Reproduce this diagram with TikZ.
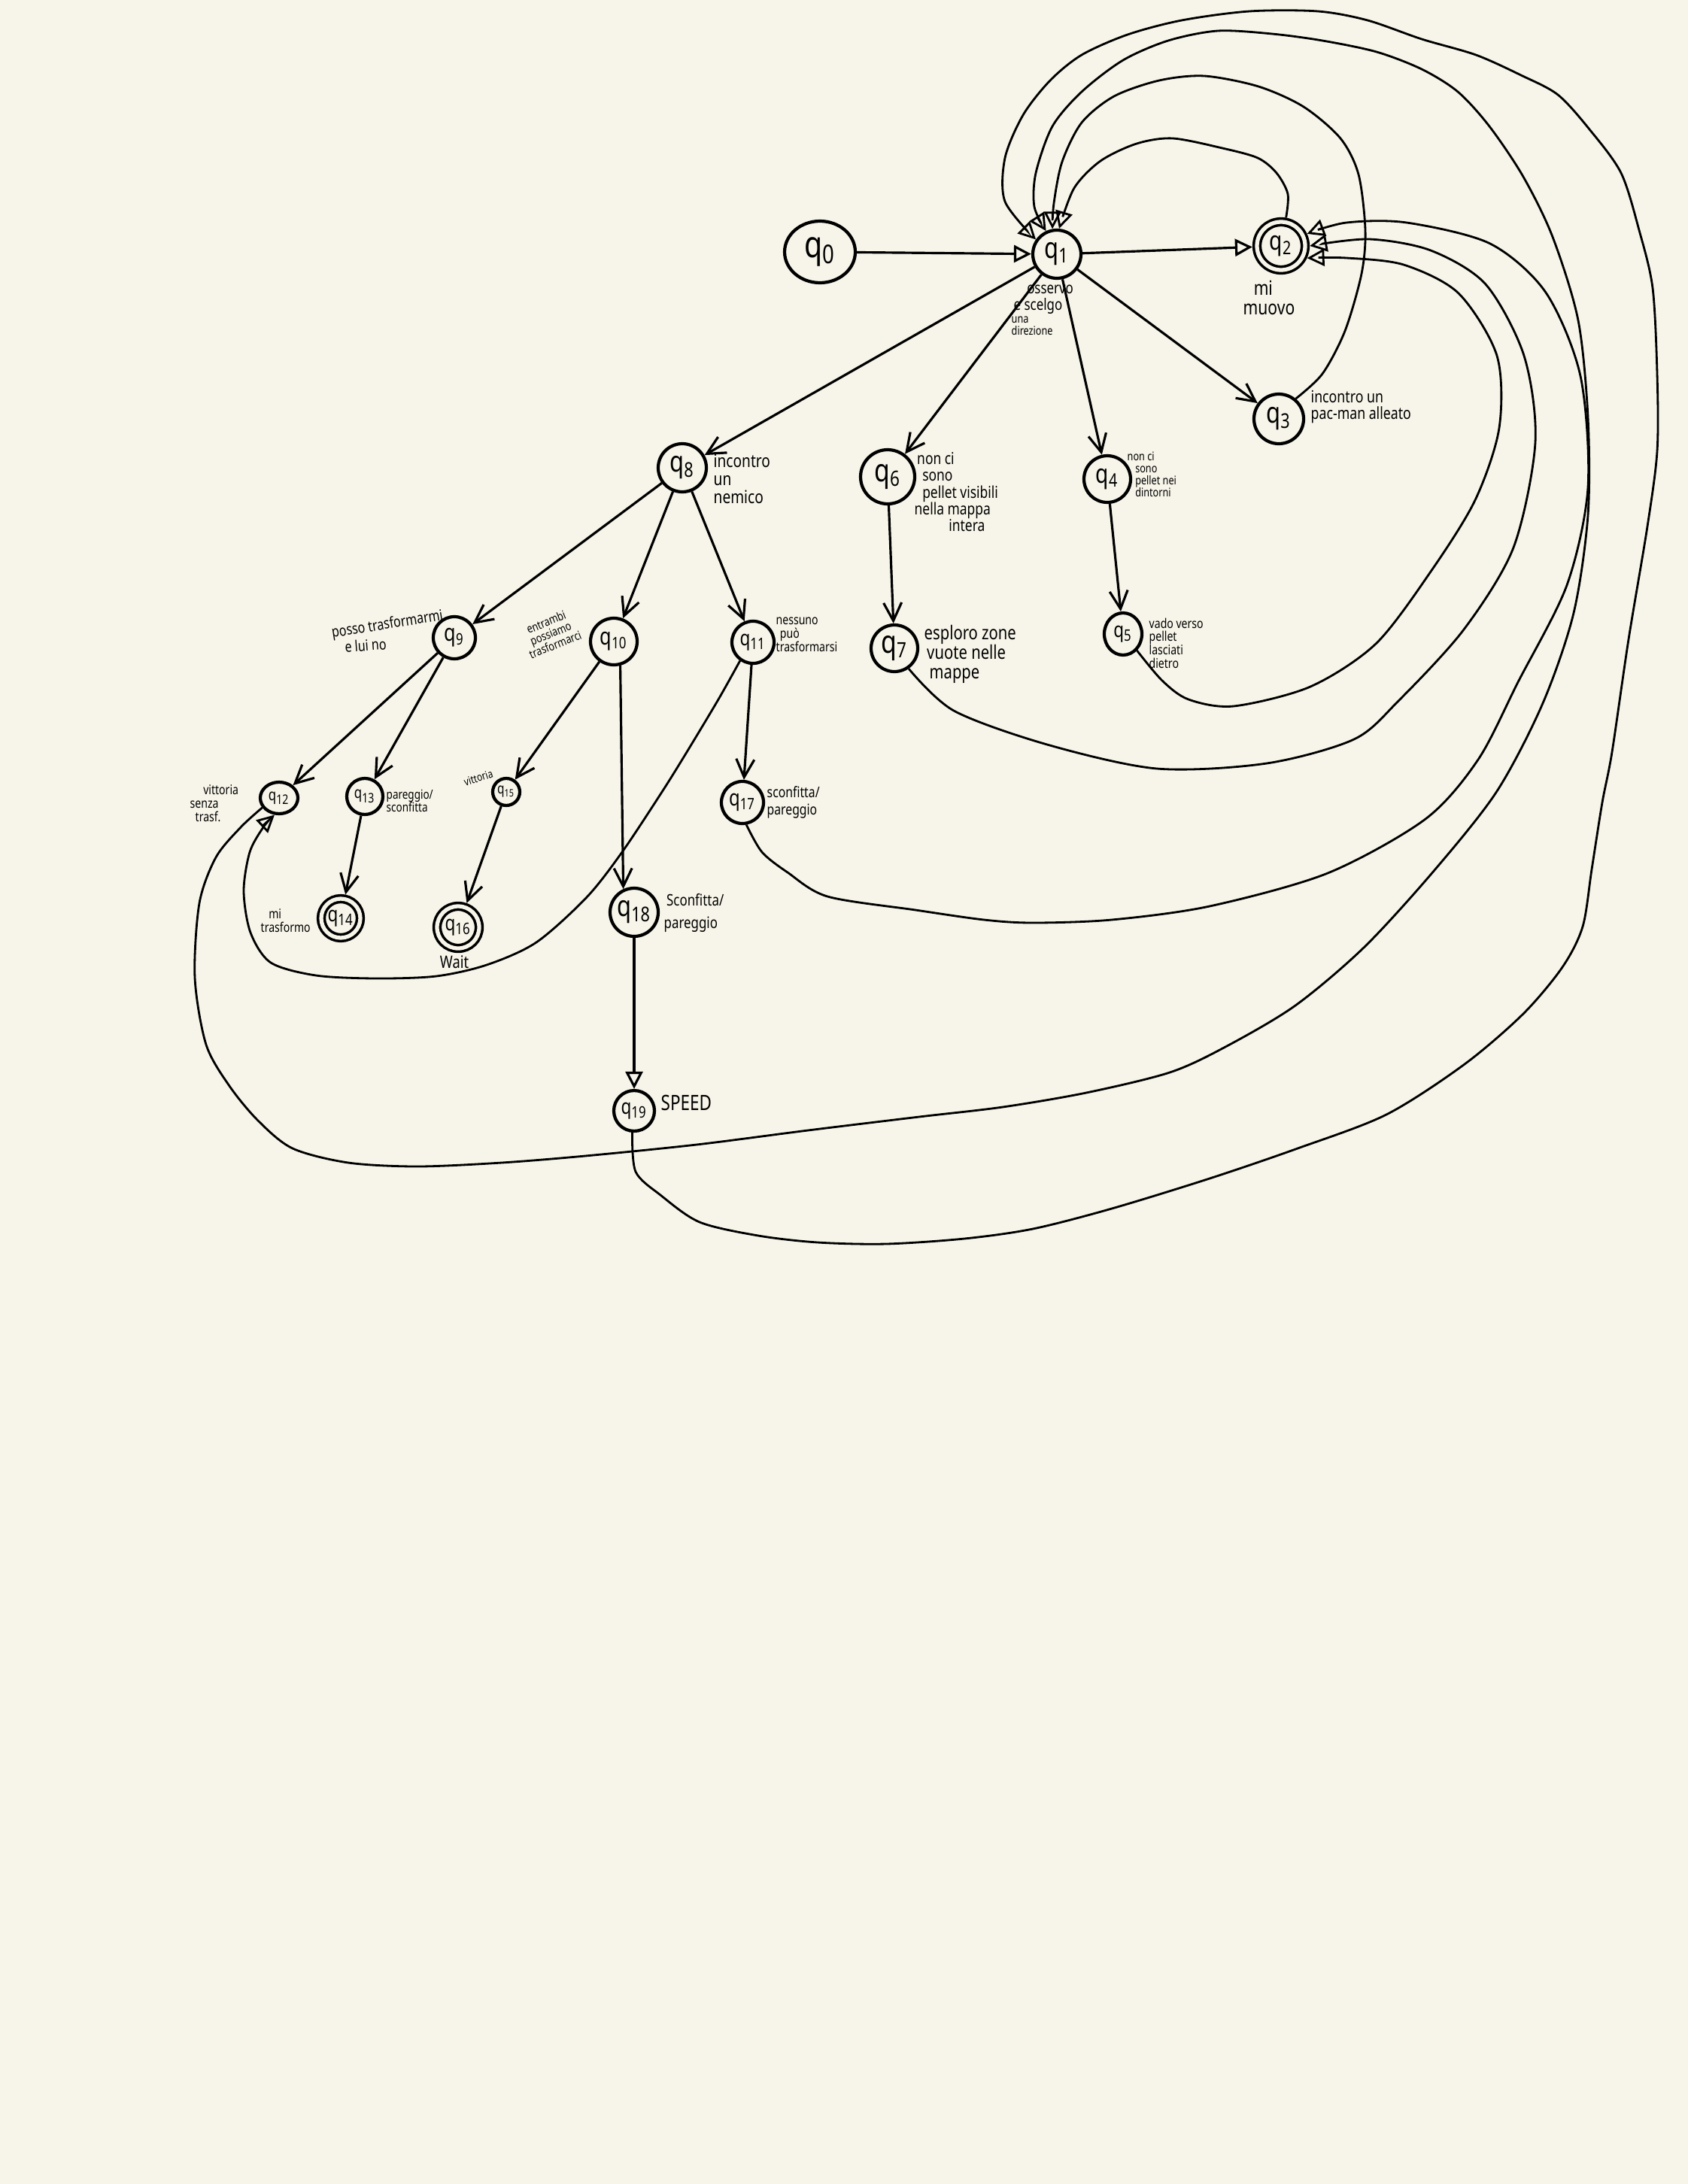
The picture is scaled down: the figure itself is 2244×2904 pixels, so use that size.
\documentclass[tikz,border=0pt]{standalone}
\usepackage{fontspec}
\setmainfont{Noto Sans}[FakeStretch=0.8]
\usetikzlibrary{arrows.meta,shapes.geometric}
\definecolor{paper}{RGB}{247,245,233}
\newcommand{\qs}[1]{q\textsubscript{#1}}
\begin{document}
\begin{tikzpicture}[x=0.1mm,y=-0.1mm,
  st/.style 2 args={circle, draw, line width=1.2pt, inner sep=0pt, minimum size=#1mm, font=\fontsize{#2}{#2}\selectfont},
  acc/.style={double=paper, double distance=1.5pt, line width=1pt, outer sep=1.75pt},
  lab/.style 2 args={inner sep=0pt, align=left, font=\fontsize{#1}{#2}\selectfont},
  vv/.style={line width=0.9pt, -{Straight Barb[length=2.4mm,width=2.4mm]}},
  tt/.style={line width=0.9pt, -{Triangle[open,length=2.3mm,width=2.3mm]}},
  lp/.style={line width=0.8pt, -{Triangle[open,length=2.3mm,width=2.3mm]}}
]
\useasboundingbox (0,0) rectangle (2244,2904);
\fill[paper] (0,0) rectangle (2244,2904);

% states
\node[st={8.2}{14}, ellipse, minimum width=9.4mm, minimum height=8.2mm] (q0) at (1090,335) {\qs{0}};
\node[st={6.4}{11}] (q1) at (1405,338) {\qs{1}};
\node[st={6.4}{10}, acc] (q2) at (1703,327) {\qs{2}};
\node[st={6.6}{11}] (q3) at (1700,557) {\qs{3}};
\node[st={6.2}{10}] (q4) at (1472,637) {\qs{4}};
\node[st={5.2}{8}, ellipse, minimum width=5mm, minimum height=5.6mm] (q5) at (1493,843) {\qs{5}};
\node[st={7.2}{12}] (q6) at (1180,634) {\qs{6}};
\node[st={6.2}{12}] (q7) at (1189,862) {\qs{7}};
\node[st={6.4}{11}] (q8) at (907,622) {\qs{8}};
\node[st={5.6}{9}] (q9) at (604,848) {\qs{9}};
\node[st={6.2}{9}] (q10) at (816,853) {\qs{10}};
\node[st={5.6}{8}] (q11) at (1001,854) {\qs{11}};
\node[st={4.2}{6}, ellipse, minimum width=5mm, minimum height=4.2mm] (q12) at (371,1061) {\qs{12}};
\node[st={4.8}{6}] (q13) at (485,1059) {\qs{13}};
\node[st={5.2}{8}, acc] (q14) at (453,1221) {\qs{14}};
\node[st={3.6}{5.5}] (q15) at (673,1053) {\qs{15}};
\node[st={5.6}{8}, acc] (q16) at (609,1233) {\qs{16}};
\node[st={5.6}{8.5}] (q17) at (987,1067) {\qs{17}};
\node[st={6.4}{11}] (q18) at (843,1213) {\qs{18}};
\node[st={5.4}{8}] (q19) at (843,1477) {\qs{19}};

% labels
\node[lab={6}{6.2}, anchor=north west] (l1a) at (1347,378) {\hspace*{5pt}osservo\\e scelgo};
\node[lab={4.5}{4.6}, anchor=north west] (l1b) at (1344,420) {una\\direzione};
\node[lab={7.5}{7.6}, anchor=north west] (l2) at (1652,372) {\hspace*{4pt}mi\\muovo};
\node[lab={6.3}{6.4}, anchor=north west] (l3) at (1742,518) {incontro un\\pac-man alleato};
\node[lab={4.5}{4.6}, anchor=north west] (l4) at (1498,600) {non ci\\\hspace*{3pt}sono\\\hspace*{3pt}pellet nei\\\hspace*{3pt}dintorni};
\node[lab={6.2}{6.3}, anchor=north west] (l6) at (1215,601) {\hspace*{1pt}non ci\\\hspace*{3pt}sono\\\hspace*{3pt}pellet visibili\\nella mappa\\\hspace*{13pt}intera};
\node[lab={7.2}{7.3}, anchor=north west] (l7) at (1228,831) {esploro zone\\\hspace*{1pt}vuote nelle\\\hspace*{2pt}mappe};
\node[lab={5}{5.1}, anchor=north west] (l5) at (1527,821) {vado verso\\pellet\\lasciati\\dietro};
\node[lab={6.8}{6.9}, anchor=north west] (l8) at (948,603) {incontro\\un\\nemico};
\node[lab={5.7}{6}, rotate=9] (l9a) at (515,831) {posso trasformarmi};
\node[lab={5.7}{6}, rotate=4] (l9b) at (486,858) {e lui no};
\node[lab={4.5}{4.6}, align=center, rotate=22] (l10) at (732,842) {entrambi\\possiamo\\trasformarci};
\node[lab={5}{5.1}, anchor=north west] (l11) at (1031,820) {nessuno\\\hspace*{1.5pt}può\\trasformarsi};
\node[lab={5}{5.1}, anchor=north west] (l12) at (252,1043) {\hspace*{5pt}vittoria\\senza\\\hspace*{2pt}trasf.};
\node[lab={4.8}{4.9}, anchor=north west] (l13) at (513,1049) {pareggio/\\sconfitta};
\node[lab={5}{5.1}, anchor=north west] (l14) at (346,1208) {\hspace*{3pt}mi\\trasformo};
\node[lab={4.2}{4.2}, rotate=18] (l15) at (636,1034) {vittoria};
\node[lab={6.5}{6.5}] (l16) at (604,1279) {Wait};
\node[lab={5.6}{6.5}, anchor=north west] (l17) at (1019,1045) {sconfitta/\\pareggio};
\node[lab={6}{8.5}, anchor=north west] (l18) at (882,1188) {\hspace*{1pt}Sconfitta/\\pareggio};
\node[lab={8}{8}, anchor=north west] (l19) at (878,1455) {SPEED};

% straight transitions
\draw[tt] (q0) -- (q1);
\draw[tt] (q1) -- (q2);
\draw[vv] (q1) -- (q3);
\draw[vv] (q1) -- (q4);
\draw[vv] (q1) -- (q6);
\draw[vv] (q1) -- (q8);
\draw[vv] (q4) -- (q5);
\draw[vv] (q6) -- (q7);
\draw[vv] (q8) -- (q9);
\draw[vv] (q8) -- (q10);
\draw[vv] (q8) -- (q11);
\draw[vv] (q9) -- (q12);
\draw[vv] (q9) -- (q13);
\draw[vv] (q13) -- (q14);
\draw[vv] (q10) -- (q15);
\draw[vv] (q15) -- (q16);
\draw[vv] (q10.-75) -- (q18.115);
\draw[vv] (q11) -- (q17);
\draw[tt] (q18) -- (q19);

% loops back to q1
\draw[lp] plot[smooth] coordinates {(q2.80) (1712,258) (1697,230) (1672,210) (1625,197) (1559,184) (1511,191) (1463,214) (1428,250) (q1.85)};
\draw[lp] plot[smooth] coordinates {(q3.50) (1758,497) (1788,440) (1810,364) (1815,306) (1806,232) (1782,184) (1733,142) (1673,115) (1601,101) (1541,107) (1481,128) (1438,163) (1412,215) (1401,270) (q1.100)};
\draw[lp] plot[smooth] coordinates {(q12.210) (320,1100) (287,1140) (265,1201) (259,1300) (274,1389) (305,1444) (343,1490) (389,1527) (463,1546) (555,1551) (667,1546) (778,1537) (926,1522) (1074,1503) (1222,1485) (1333,1472) (1444,1453) (1555,1426) (1629,1392) (1722,1337) (1814,1259) (1907,1157) (1990,1052) (2051,935) (2092,815) (2111,685) (2111,555) (2098,426) (2064,315) (2025,235) (1980,168) (1938,122) (1890,92) (1830,69) (1758,54) (1691,45) (1619,41) (1553,54) (1493,80) (1438,122) (1399,168) (1377,230) (1375,275) (q1.115)};
\draw[lp] plot[smooth] coordinates {(q19.-95) (845,1558) (878,1589) (930,1625) (1008,1643) (1087,1652) (1178,1654) (1282,1647) (1373,1634) (1478,1607) (1608,1567) (1725,1527) (1843,1482) (1947,1415) (2025,1348) (2077,1286) (2104,1232) (2116,1156) (2130,1067) (2143,1000) (2165,850) (2190,700) (2203,600) (2203,497) (2197,383) (2179,306) (2155,230) (2113,172) (2071,126) (2022,100) (1962,73) (1890,52) (1818,27) (1752,15) (1661,15) (1571,27) (1499,46) (1438,73) (1396,107) (1360,153) (1336,210) (1336,268) (q1.145)};

% loops back to q2
\draw[lp] plot[smooth] coordinates {(q5.-50) (1545,905) (1580,930) (1640,939) (1742,913) (1829,856) (1902,760) (1961,665) (1993,569) (1990,473) (1939,390) (1866,352) (1790,343) (q2.-25)};
\draw[lp] plot[smooth] coordinates {(q7.-55) (1268,945) (1392,990) (1538,1022) (1684,1015) (1800,983) (1859,932) (1946,837) (2012,728) (2041,588) (2026,473) (1975,378) (1902,333) (1820,318) (q2.0)};
\draw[lp] plot[smooth] coordinates {(q17.-80) (1013,1133) (1047,1160) (1100,1192) (1217,1210) (1308,1223) (1373,1227) (1478,1223) (1608,1205) (1765,1161) (1895,1089) (1965,1010) (2018,907) (2083,778) (2111,648) (2101,500) (2055,389) (1981,324) (1870,296) (1790,296) (q2.25)};

% q11 to q12
\draw[lp] plot[smooth] coordinates {(q11.235) (955,930) (913,1000) (880,1053) (827,1133) (780,1193) (713,1253) (647,1283) (580,1298) (500,1301) (420,1297) (360,1280) (333,1240) (324,1185) (332,1133) (350,1100) (q12.255)};
\end{tikzpicture}
\end{document}
